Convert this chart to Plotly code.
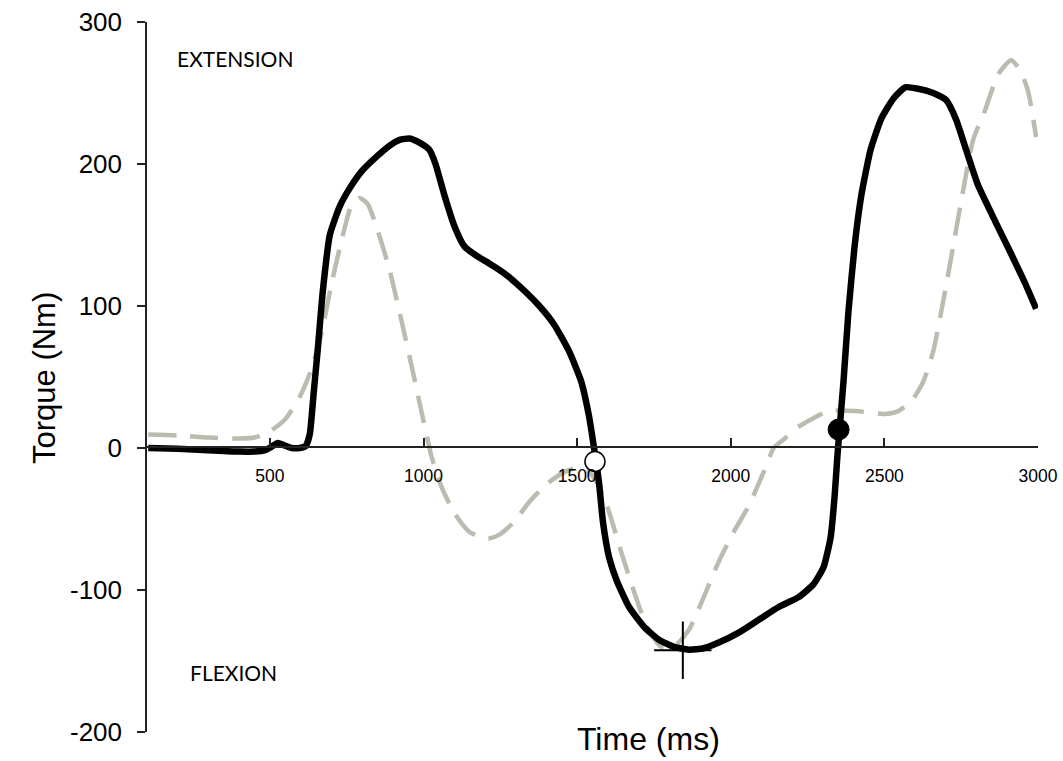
import plotly.graph_objects as go

# ---- data ----
black_time = [104, 201, 299, 399, 451, 484, 506, 526, 545, 571, 597, 617, 630, 643, 656, 672, 695,
              727, 760, 799, 841, 890, 922, 955, 987, 1019, 1039, 1068, 1101, 1133, 1175, 1214,
              1263, 1312, 1377, 1425, 1474, 1513, 1539, 1555, 1571, 1584, 1604, 1630, 1669, 1718,
              1766, 1815, 1864, 1912, 1961, 2026, 2091, 2156, 2221, 2269, 2302, 2325, 2338, 2347,
              2354, 2367, 2383, 2403, 2425, 2455, 2490, 2529, 2568, 2610, 2659, 2701, 2734, 2766,
              2805, 2860, 2912, 2958, 2994]
black_torque = [0, -0.5, -1.5, -2.5, -2.5, -1.5, 1, 3.5, 2, 0, 0, 1.5, 10, 40, 70, 110, 150,
                170, 183, 195, 204, 213, 217, 218, 215, 210, 200, 178, 156, 142, 135, 130,
                123, 114, 100, 87, 68, 47, 22, 0, -24, -52, -77, -94, -112, -126,
                -135, -140, -142, -141, -137, -130, -121, -112, -105, -96, -84, -63, -34, -6,
                13, 47, 96, 142, 178, 210, 232, 246, 254, 253, 250, 245, 231, 210,
                185, 160, 137, 116, 98]

grey_time = [104, 201, 299, 399, 451, 500, 549, 597, 636, 669, 701, 734, 766, 792, 818, 851, 890,
             929, 968, 1000, 1026, 1058, 1101, 1149, 1208, 1247, 1295, 1344, 1403, 1458, 1500,
             1539, 1571, 1604, 1643, 1685, 1727, 1773, 1815, 1864, 1912, 1961, 2010, 2058, 2081,
             2107, 2140, 2172, 2221, 2269, 2318, 2406, 2500, 2545, 2588, 2627, 2659, 2692, 2724,
             2756, 2789, 2828, 2870, 2912, 2942, 2968, 2994]
grey_torque = [9.5, 8.8, 7.4, 6.7, 7.4, 11.7, 20, 36, 56, 82, 116, 147, 171, 176, 172, 153, 125,
               89, 51, 19, -6, -27, -46, -59, -64, -61, -52, -38, -25, -17, -14,
               -17, -27, -45, -73, -101, -126, -140, -140, -128, -105, -80, -59, -41, -30,
               -17, 0, 6, 15, 21, 26, 26, 24, 26, 33, 47, 68, 104, 142,
               181, 217, 238, 263, 273, 266, 251, 219]

open_event_time = [1558]
open_event_torque = [-9.5]
filled_event_time = [2351]
filled_event_torque = [13]
peak_time = [1844]
peak_torque = [-142.4]

x_ticks = [500, 1000, 1500, 2000, 2500, 3000]
y_ticks = [-200, -100, 0, 100, 200, 300]

FONT = "Arial, Liberation Sans, sans-serif"

W, H = 1063, 761
PL, PR, PT, PB = 147, 1038, 22, 732   # plot area in window pixels


def px(xw):
    return (xw - PL) / (PR - PL)


def py(yw):
    return (PB - yw) / (PB - PT)


fig = go.Figure()
fig.add_trace(go.Scatter(x=grey_time, y=grey_torque, mode="lines",
                         line=dict(color="rgb(186,188,176)", width=4.5, dash="28px,14px", shape="spline", smoothing=0.6),
                         hoverinfo="skip", showlegend=False))
fig.add_trace(go.Scatter(x=black_time, y=black_torque, mode="lines",
                         line=dict(color="black", width=6.5, shape="spline", smoothing=0.5),
                         hoverinfo="skip", showlegend=False))
fig.add_trace(go.Scatter(x=peak_time, y=peak_torque, mode="markers",
                         marker=dict(symbol="cross-thin", size=41, line=dict(color="black", width=2)),
                         showlegend=False))
fig.add_trace(go.Scatter(x=open_event_time, y=open_event_torque, mode="markers",
                         marker=dict(symbol="circle", size=20, color="white", line=dict(color="black", width=1.5)),
                         showlegend=False))
fig.add_trace(go.Scatter(x=filled_event_time, y=filled_event_torque, mode="markers",
                         marker=dict(symbol="circle", size=21, color="black", line=dict(color="black", width=1)),
                         showlegend=False))

fig.update_layout(
    width=W, height=H, autosize=False,
    margin=dict(l=PL, r=W - PR, t=PT, b=H - PB, pad=0, autoexpand=False),
    paper_bgcolor="white", plot_bgcolor="white",
    showlegend=False,
    xaxis=dict(range=[100, 3000], anchor="free", position=py(446.5), automargin=False,
               tickvals=x_ticks, ticktext=[str(v) for v in x_ticks],
               ticks="inside", ticklen=8, tickwidth=1.5, tickcolor="#222",
               showline=True, linecolor="#222", linewidth=1.5,
               showgrid=False, zeroline=False, ticklabelstandoff=14,
               ticklabeloverflow="allow",
               tickfont=dict(family=FONT, size=17.5, color="black")),
    yaxis=dict(range=[-200, 300], tickvals=y_ticks, ticktext=[str(v) for v in y_ticks], automargin=False,
               ticks="outside", ticklen=8, tickwidth=1.5, tickcolor="#222",
               showline=True, linecolor="#222", linewidth=1.5,
               showgrid=False, zeroline=False, ticklabelstandoff=10,
               ticklabeloverflow="allow",
               tickfont=dict(family=FONT, size=26, color="black")),
    annotations=[
        dict(text="Time (ms)", xref="paper", yref="paper", x=px(648), y=py(739),
             xanchor="center", yanchor="middle", showarrow=False,
             font=dict(family=FONT, size=32, color="black")),
        dict(text="Torque (Nm)", xref="paper", yref="paper", x=px(44), y=py(378),
             xanchor="center", yanchor="middle", showarrow=False, textangle=-90,
             font=dict(family=FONT, size=31, color="black")),
        dict(text="EXTENSION", xref="paper", yref="paper", x=px(175), y=py(58),
             xanchor="left", yanchor="middle", showarrow=False,
             font=dict(family="Lato, sans-serif", size=21, color="black")),
        dict(text="FLEXION", xref="paper", yref="paper", x=px(188), y=py(672),
             xanchor="left", yanchor="middle", showarrow=False,
             font=dict(family="Lato, sans-serif", size=21, color="black")),
    ],
)

fig.write_html(
    "out.html",
    config={"displayModeBar": False},
    post_script="document.body.style.margin='0';document.body.style.overflow='hidden';"
                "document.documentElement.style.overflow='hidden';",
)
